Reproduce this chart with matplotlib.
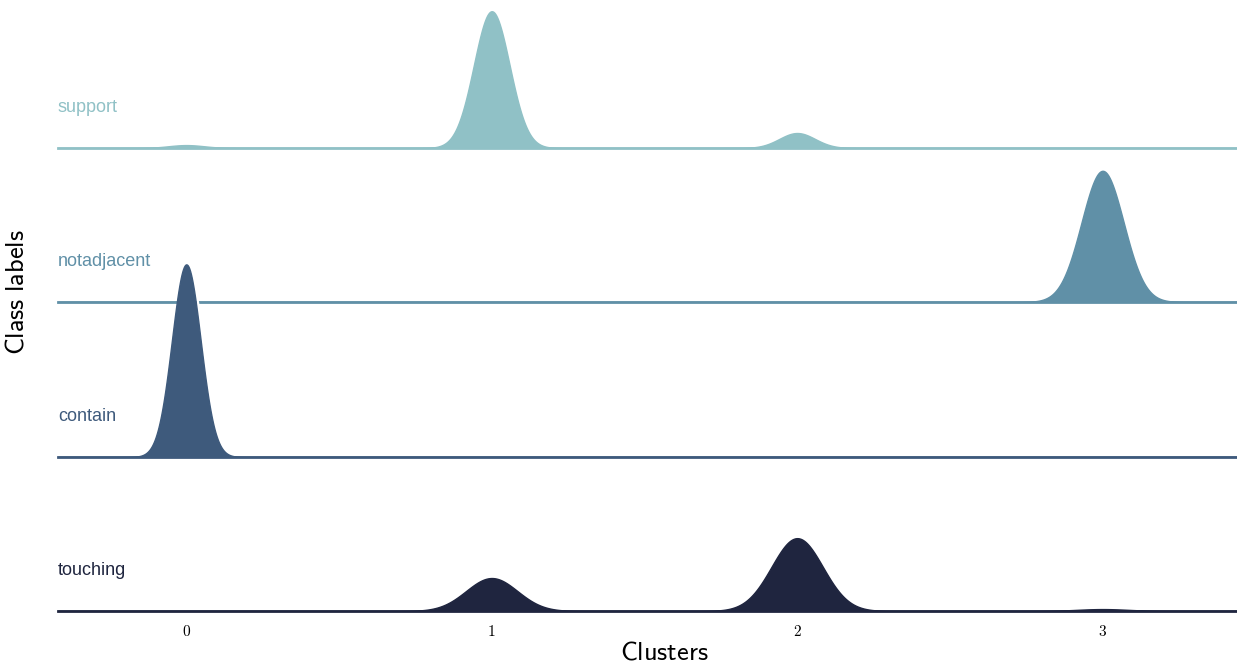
import numpy as np
import matplotlib
matplotlib.use("Agg")
import matplotlib.pyplot as plt
import matplotlib.transforms as mtransforms
import seaborn as sns

plt.rcParams["mathtext.fontset"] = "cm"

# --- data: share of each class falling in each cluster ---
classes = ["support", "notadjacent", "contain", "touching"]
clusters = [0, 1, 2, 3]
share_support = [0.019, 0.884, 0.097, 0.0]
share_notadjacent = [0.0, 0.0, 0.0, 1.0]
share_contain = [1.0, 0.0, 0.0, 0.0]
share_touching = [0.0, 0.306, 0.676, 0.018]
shares = [share_support, share_notadjacent, share_contain, share_touching]
# kernel bandwidth of each class' density estimate
bandwidths = [0.0585, 0.069, 0.047, 0.084]

pal = sns.cubehelix_palette(4, rot=-.25, light=.7)

x = np.linspace(-0.42, 3.44, 1500)


def kde(share, bw):
    # weighted gaussian kernel density over the cluster ids
    dens = np.zeros_like(x)
    for c, w in zip(clusters, share):
        dens += w * np.exp(-0.5 * ((x - c) / bw) ** 2) / (np.sqrt(2 * np.pi) * bw)
    return dens


fig = plt.figure(figsize=(12.37, 6.68), dpi=100)
left = 58 / 1237
baselines = [0.7784, 0.5479, 0.3159, 0.0853]
for i, (label, share, bw) in enumerate(zip(classes, shares, bandwidths)):
    ax = fig.add_axes([left, baselines[i], 1 - left, 0.3])
    ax.patch.set_alpha(0)
    color = pal[i]
    dens = kde(share, bw)
    shift = mtransforms.offset_copy(ax.transData, fig=fig, x=2.0, y=0.5, units="dots")
    ax.plot(x, dens, color="white", lw=1.8, transform=shift, zorder=1)
    ax.fill_between(x, 0, dens, color=color, lw=1.0, zorder=2)
    ax.axhline(0, color=color, lw=2, clip_on=False, zorder=3)
    ax.text(0, 0.20, label, color=color, ha="left", va="center",
            fontsize=13, family="Liberation Sans", transform=ax.transAxes)
    ax.set_xlim(-0.42, 3.44)
    ax.set_ylim(0, 8.83)
    ax.set_yticks([])
    for s in ax.spines.values():
        s.set_visible(False)
    if i == len(classes) - 1:
        ax.set_xticks(clusters)
        ax.set_xticklabels([f"${c}$" for c in clusters], fontsize=11)
        ax.tick_params(axis="x", length=0, pad=9)
    else:
        ax.set_xticks([])

fig.text(664 / 1237, 1 - 653 / 668, r"$\mathsf{Clusters}$", ha="center", va="center", fontsize=19)
fig.text(17 / 1237, 1 - 292 / 668, r"$\mathsf{Class\ labels}$", ha="center", va="center",
         rotation=90, fontsize=19)

fig.savefig("out.png", dpi=100)
